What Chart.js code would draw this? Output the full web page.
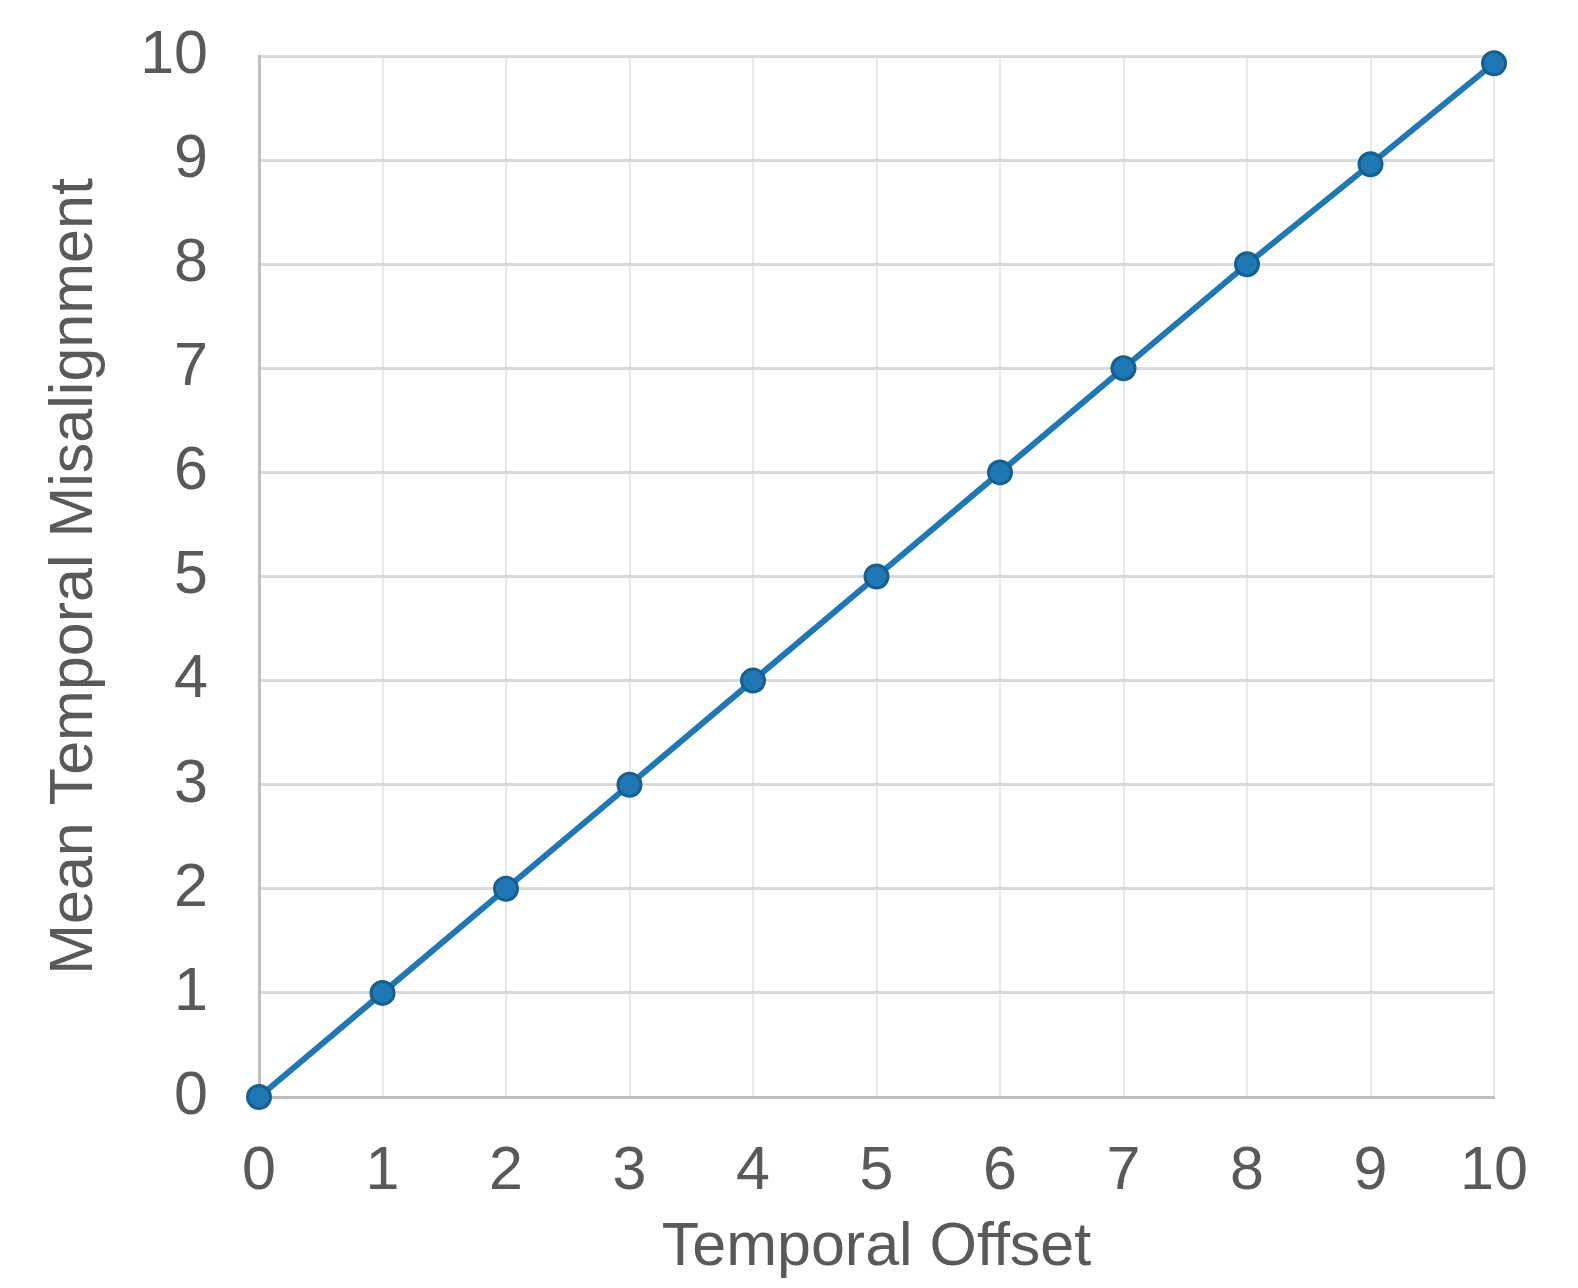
<!DOCTYPE html>
<html>
<head>
<meta charset="utf-8">
<script src="https://cdn.jsdelivr.net/npm/chart.js@4"></script>
<style>
  html, body { margin: 0; padding: 0; background: #fff; }
  #wrap { width: 1578px; height: 1288px; }
</style>
</head>
<body>
<div id="wrap"><canvas id="lineChart" width="1578" height="1288"></canvas></div>
<script>
// data
const offsets = [0, 1, 2, 3, 4, 5, 6, 7, 8, 9, 10];
const misalignment = [0, 1, 2, 3, 4, 5, 6, 7, 8, 8.96, 9.93];
const xTicks = [0, 1, 2, 3, 4, 5, 6, 7, 8, 9, 10];
const yTicks = [0, 1, 2, 3, 4, 5, 6, 7, 8, 9, 10];

const textColor = '#595959';
const font = { family: '"Liberation Sans", Arial, sans-serif', size: 61 };

const ctx = document.getElementById('lineChart').getContext('2d');

new Chart(ctx, {
  type: 'line',
  data: {
    datasets: [{
      label: 'Mean Temporal Misalignment',
      data: offsets.map((x, i) => ({ x: x, y: misalignment[i] })),
      borderColor: '#1f77b4',
      borderWidth: 6,
      pointRadius: 11.5,
      pointBorderWidth: 3,
      pointBackgroundColor: '#1f77b4',
      pointBorderColor: '#175f8f',
      tension: 0,
      clip: false
    }]
  },
  options: {
    responsive: false,
    animation: false,
    layout: { padding: { top: 56, right: 84, left: 0, bottom: 0 } },
    plugins: { legend: { display: false }, tooltip: { enabled: false } },
    scales: {
      x: {
        type: 'linear',
        min: 0,
        max: 10,
        afterBuildTicks: s => { s.ticks = xTicks.map(v => ({ value: v })); },
        afterFit: s => { s.height = 1288 - 1097; s.paddingLeft = 0; s.paddingRight = 0; },
        grid: { color: '#e8e8e8', lineWidth: 2, drawTicks: false },
        border: { color: '#bfbfbf', width: 3 },
        ticks: { color: textColor, font: font, padding: 39, maxRotation: 0 },
        title: {
          display: true,
          text: 'Temporal Offset',
          color: textColor,
          font: font,
          padding: { top: 0, bottom: 3 }
        }
      },
      y: {
        type: 'linear',
        min: 0,
        max: 10,
        afterBuildTicks: s => { s.ticks = yTicks.map(v => ({ value: v })); },
        afterFit: s => { s.width = 259; s.paddingTop = 0; s.paddingBottom = 0; },
        grid: { color: '#d9d9d9', lineWidth: 3, drawTicks: false },
        border: { color: '#bfbfbf', width: 3 },
        ticks: { color: textColor, font: font, padding: 51 },
        title: {
          display: true,
          text: 'Mean Temporal Misalignment',
          color: textColor,
          font: font,
          padding: { top: 39, bottom: 0 }
        }
      }
    }
  }
});
</script>
</body>
</html>
